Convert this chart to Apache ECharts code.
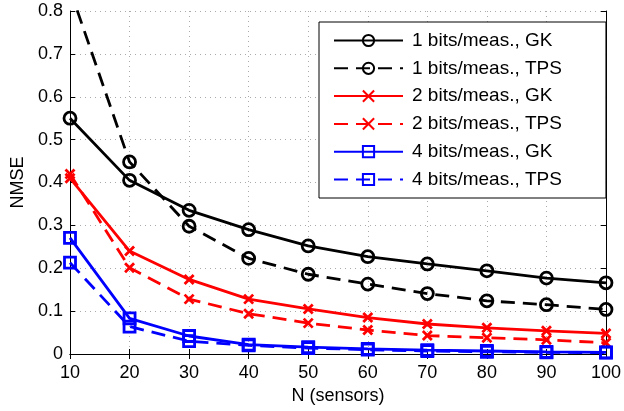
<!DOCTYPE html>
<html><head><meta charset="utf-8">
<script src="https://cdn.jsdelivr.net/npm/echarts@6/dist/echarts.min.js"></script>
<style>html,body{margin:0;padding:0;background:#fff}#c{width:624px;height:411px}</style>
</head><body><div id="c"></div>
<script>
const sensors = [10, 20, 30, 40, 50, 60, 70, 80, 90, 100];
const gk1  = [0.55, 0.405, 0.335, 0.29, 0.252, 0.227, 0.21, 0.194, 0.177, 0.166];
const tps1 = [0.85, 0.448, 0.298, 0.223, 0.186, 0.163, 0.141, 0.124, 0.115, 0.104];
const gk2  = [0.41, 0.24, 0.174, 0.128, 0.105, 0.085, 0.07, 0.061, 0.054, 0.048];
const tps2 = [0.42, 0.201, 0.128, 0.094, 0.072, 0.056, 0.043, 0.038, 0.033, 0.026];
const gk4  = [0.271, 0.083, 0.042, 0.022, 0.016, 0.012, 0.009, 0.007, 0.005, 0.004];
const tps4 = [0.213, 0.064, 0.030, 0.020, 0.014, 0.010, 0.007, 0.005, 0.004, 0.003];
const names = ['1 bits/meas., GK','1 bits/meas., TPS','2 bits/meas., GK','2 bits/meas., TPS','4 bits/meas., GK','4 bits/meas., TPS'];

const FONT = 'Liberation Sans, Arial, Helvetica, sans-serif';
const FS = 18;
const xMark = 'path://M0,0L10,10M10,0L0,10';
const dash = [14, 8];
function mk(name, arr, color, symbol, size, dashed) {
  return {
    name, type: 'line', data: sensors.map((n, i) => [n, arr[i]]),
    symbol, symbolSize: size, showAllSymbol: true, clip: true,
    lineStyle: { color, width: 2.8, type: dashed ? dash : 'solid' },
    itemStyle: { color: 'rgba(0,0,0,0)', borderColor: color, borderWidth: 2.8 },
    emphasis: { disabled: true }
  };
}
const chart = echarts.init(document.getElementById('c'));
chart.setOption({
  animation: false,
  backgroundColor: '#fff',
  grid: { left: 70, right: 15, top: 11, bottom: 57, containLabel: false },
  xAxis: [{
    type: 'value', min: 10, max: 100, interval: 10,
    name: 'N (sensors)', nameLocation: 'middle', nameGap: 32,
    nameTextStyle: { fontSize: FS, color: '#000', fontFamily: FONT },
    axisLine: { lineStyle: { color: '#000', width: 1 } },
    axisTick: { inside: true, length: 5, lineStyle: { color: '#000' } },
    axisLabel: { fontSize: FS, color: '#000', fontFamily: FONT, margin: 10 },
    splitLine: { show: true, lineStyle: { color: '#aaa', type: [1, 4], width: 1 } }
  }, {
    type: 'value', min: 10, max: 100, interval: 10, position: 'top',
    axisLine: { show: true, lineStyle: { color: '#000', width: 1 } },
    axisTick: { inside: true, length: 5, lineStyle: { color: '#000' } },
    axisLabel: { show: false }, splitLine: { show: false }
  }],
  yAxis: [{
    type: 'value', min: 0, max: 0.8, interval: 0.1,
    name: 'NMSE', nameLocation: 'middle', nameGap: 43,
    nameTextStyle: { fontSize: FS, color: '#000', fontFamily: FONT },
    axisLine: { show: true, lineStyle: { color: '#000', width: 1 } },
    axisTick: { show: true, inside: true, length: 5, lineStyle: { color: '#000' } },
    axisLabel: { fontSize: FS, color: '#000', fontFamily: FONT, margin: 7,
      formatter: v => (Math.round(v * 10) / 10).toString() },
    splitLine: { show: true, lineStyle: { color: '#aaa', type: [1, 4], width: 1 } }
  }, {
    type: 'value', min: 0, max: 0.8, interval: 0.1, position: 'right',
    axisLine: { show: true, lineStyle: { color: '#000', width: 1 } },
    axisTick: { show: true, inside: true, length: 5, lineStyle: { color: '#000' } },
    axisLabel: { show: false }, splitLine: { show: false }
  }],
  legend: {
    orient: 'vertical', left: 319, top: 22,
    backgroundColor: '#fff', borderColor: '#000', borderWidth: 1,
    padding: [9, 44, 9, 14], itemGap: 8.8, itemWidth: 69, itemHeight: 14,
    textStyle: { fontSize: 19, color: '#000', fontFamily: FONT, padding: [0, 0, 0, 4] },
    data: names
  },
  series: [
    mk(names[0], gk1, '#000', 'circle', 12, false),
    mk(names[1], tps1, '#000', 'circle', 12, true),
    mk(names[2], gk2, '#ff0000', xMark, 9, false),
    mk(names[3], tps2, '#ff0000', xMark, 9, true),
    mk(names[4], gk4, '#0000ff', 'rect', 11, false),
    mk(names[5], tps4, '#0000ff', 'rect', 11, true)
  ]
});
</script></body></html>
